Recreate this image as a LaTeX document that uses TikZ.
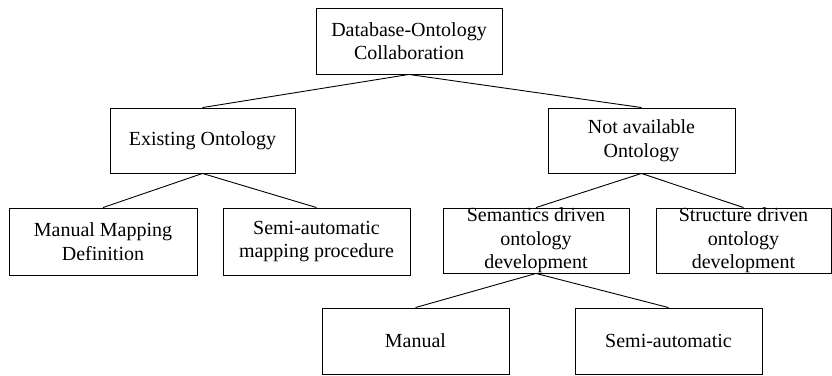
\documentclass[tikz,border=0pt]{standalone}
\usepackage{fontspec}
\setmainfont{Liberation Serif}
\begin{document}
\begin{tikzpicture}[x=1pt,y=-1pt,
  box/.style={draw, line width=0.9pt, inner sep=0pt},
  txt/.style={align=center, inner sep=0pt, font=\fontsize{20}{23.5}\selectfont},
  link/.style={line width=0.9pt}]
\useasboundingbox (0,0) rectangle (832,375);
\clip (0,0) rectangle (832,375);
\node[box, minimum width=186, minimum height=66] (top) at (409,41) {};
\node[txt] at (top.center) {Database-Ontology\\Collaboration};
\node[box, minimum width=185, minimum height=65] (exist) at (202.5,140.5) {};
\node[txt] at (exist.center) {Existing Ontology};
\node[box, minimum width=187, minimum height=65] (notav) at (641.5,140.5) {};
\node[txt] at (notav.center) {Not available\\Ontology};
\node[box, minimum width=188, minimum height=67] (mmd) at (103,241.5) {};
\node[txt] at (mmd.center) {Manual Mapping\\Definition};
\node[box, minimum width=187, minimum height=67] (sam) at (316.5,241.5) {};
\node[txt] at (sam.center) {Semi-automatic\\mapping procedure};
\node[box, minimum width=186, minimum height=65] (sem) at (536,240.5) {};
\node[txt] at (sem.center) {Semantics driven\\ontology\\development};
\node[box, minimum width=175, minimum height=65] (str) at (743.5,240.5) {};
\node[txt] at (str.center) {Structure driven\\ontology\\development};
\node[box, minimum width=187, minimum height=66] (man) at (415.5,341) {};
\node[txt] at (man.center) {Manual};
\node[box, minimum width=187, minimum height=66] (semi) at (668.5,341) {};
\node[txt] at (semi.center) {Semi-automatic};
\draw[link] (top.south) -- (exist.north);
\draw[link] (top.south) -- (notav.north);
\draw[link] (exist.south) -- (mmd.north);
\draw[link] (exist.south) -- (sam.north);
\draw[link] (notav.south) -- (sem.north);
\draw[link] (notav.south) -- (str.north);
\draw[link] (sem.south) -- (man.north);
\draw[link] (sem.south) -- (semi.north);
\end{tikzpicture}
\end{document}
